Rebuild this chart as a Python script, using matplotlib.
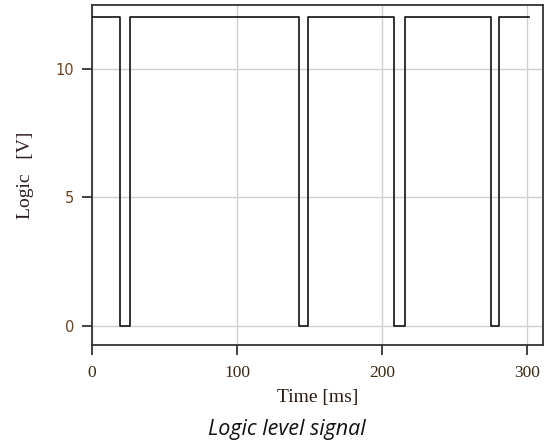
import matplotlib
matplotlib.use("Agg")
import matplotlib.pyplot as plt

# Signal edges (ms) and levels (V)
times = [0, 19.5, 19.5, 26.0, 26.0, 142.5, 142.5, 149.0, 149.0, 208.5, 208.5, 215.5, 215.5, 275.0, 275.0, 281.0, 281.0, 301.5]
levels = [12, 12, 0, 0, 12, 12, 0, 0, 12, 12, 0, 0, 12, 12, 0, 0, 12, 12]
x_ticks = [0, 100, 200, 300]
y_ticks = [0, 5, 10]

fig = plt.figure(figsize=(5.46, 4.43), dpi=100)
ax = fig.add_axes([92/546, 1-345/443, (543-92)/546, (345-5.5)/443])

ax.plot(times, levels, color="#111111", lw=1.2, zorder=3)
ax.set_xlim(0, 311)
ax.set_ylim(-0.74, 12.45)
ax.set_xticks(x_ticks)
ax.set_yticks(y_ticks)
ax.grid(True, color="#d0d0d0", lw=1.0)
ax.set_axisbelow(True)

serif = ["Liberation Serif", "DejaVu Serif"]
sans = ["DejaVu Sans"]
for lab in ax.get_xticklabels():
    lab.set_family(serif)
    lab.set_fontsize(12.5)
    lab.set_color("#3d2814")
for lab in ax.get_yticklabels():
    lab.set_family(sans)
    lab.set_fontsize(10.5)
    lab.set_color("#6a4420")
ax.tick_params(direction="out", length=7.5, width=1.2, color="#222222")
ax.tick_params(axis="x", pad=7)
ax.tick_params(axis="y", pad=5.5)
for s in ax.spines.values():
    s.set_color("#333333")
    s.set_linewidth(1.3)

ax.set_xlabel("Time [ms]", family=serif, fontsize=14, color="#2a1a10", labelpad=6)
ax.set_ylabel("Logic   [V]", family=serif, fontsize=14, color="#2a1a20", labelpad=15)

fig.text(287/546, 1-429/443, "Logic level signal", family=["Open Sans", "DejaVu Sans"],
         style="italic", fontsize=15.5, ha="center", va="center", color="#111111")

fig.savefig("out.png", dpi=100)
